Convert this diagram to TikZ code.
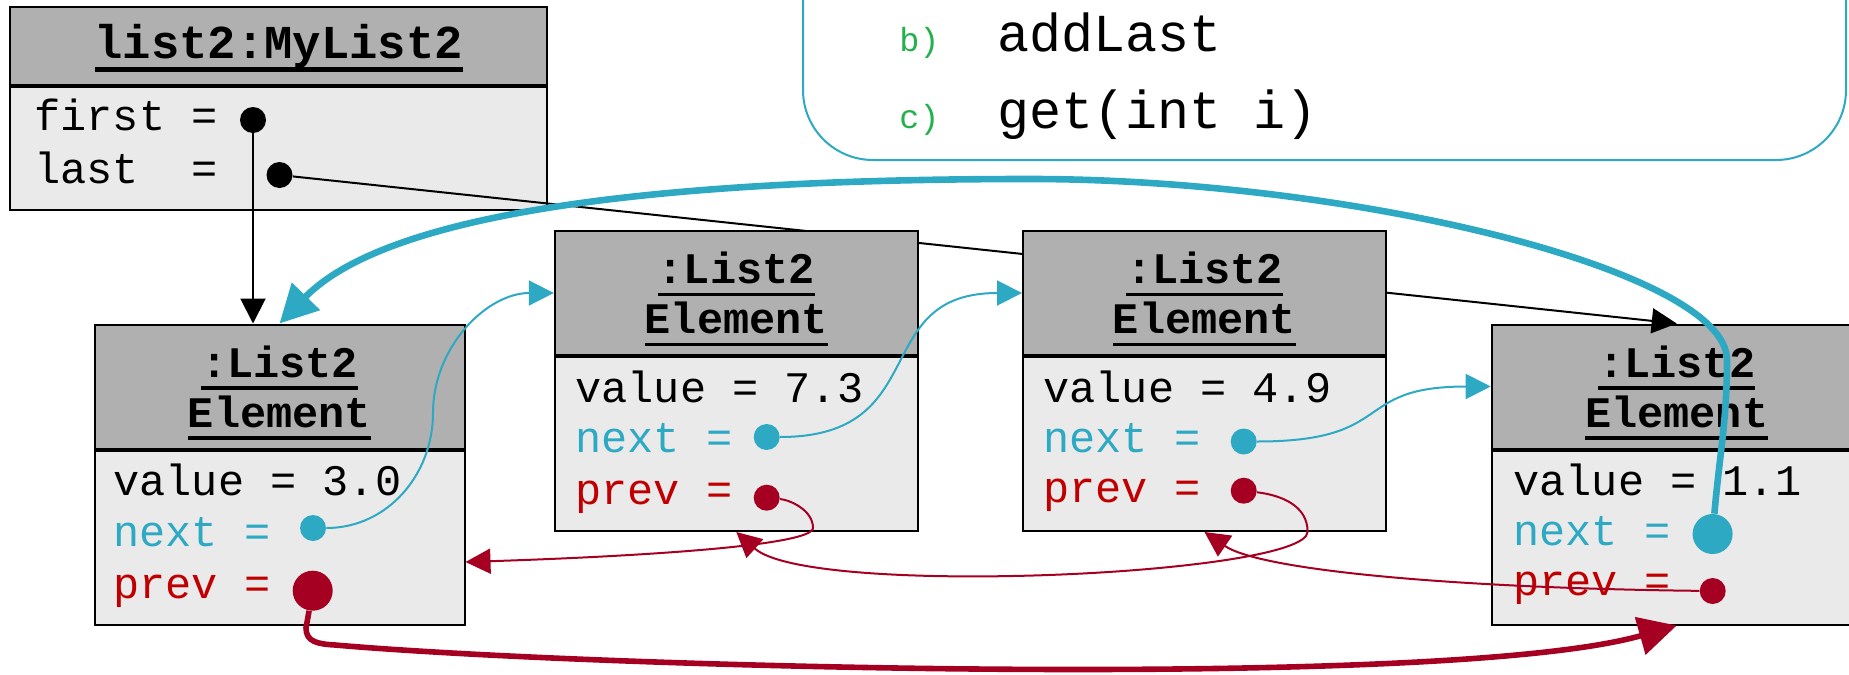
\documentclass[tikz,border=0pt]{standalone}
\usepackage{fontspec}
\setmonofont{Liberation Mono}
\usetikzlibrary{arrows.meta,positioning}
\definecolor{hdrgray}{HTML}{B0B0B0}
\definecolor{bodygray}{HTML}{EAEAEA}
\definecolor{nextcol}{HTML}{2EA9C4}
\definecolor{prevcol}{HTML}{A50021}
\definecolor{prevtxt}{HTML}{C00000}
\definecolor{notegreen}{HTML}{22B14C}
% underlined text: depth of rule, thickness, text
\newcommand{\ulbox}[3]{\leavevmode\setbox0=\hbox{#3}\rlap{\smash{\rule[#1]{\wd0}{#2}}}\box0}
\newcommand{\elemtitle}{\ulbox{-6.3pt}{1.7pt}{:List2}\\\ulbox{-6.3pt}{1.7pt}{Element}}
\tikzset{
    hdr/.style =    {rectangle,
                    fill=hdrgray,
                    draw=black,
                    line width=1pt,
                    inner sep=0pt,
                    minimum height=62pt,
                    align=center,
                    font=\ttfamily\bfseries\fontsize{21.8}{25}\selectfont},
    body/.style =   {rectangle,
                    fill=bodygray,
                    draw=black,
                    line width=1pt,
                    inner sep=0pt,
                    minimum height=87pt},
    field/.style =  {anchor=base west,
                    inner sep=0pt,
                    font=\ttfamily\fontsize{21.8}{25}\selectfont},
    ptr/.style =    {circle,
                    fill=black,
                    inner sep=0pt,
                    minimum size=13pt},
    bigptr/.style = {ptr,
                    minimum size=20pt},
    notelbl/.style = {anchor=base west,
                    inner sep=0pt,
                    text=notegreen,
                    font=\ttfamily\fontsize{16.7}{20}\selectfont},
    notetxt/.style = {anchor=base west,
                    inner sep=0pt,
                    font=\ttfamily\fontsize{26.7}{30}\selectfont},
    -,
    >={Triangle[length=12.5pt,width=12.5pt]},
    bigtip/.style = {-{Triangle[length=19pt,width=19pt]}}}

\begin{document}
\begin{tikzpicture}[x=0.5pt,y=-0.5pt]
        \useasboundingbox (0,0) rectangle (1849,675);
        % task box
        \draw [nextcol,line width=1pt,rounded corners=35pt,fill=white] (803,-100) rectangle (1846,160);
        \node[notelbl]      (bl) at (899,51.7)      {b)};
        \node[notetxt]      (bt) at (996.7,51.7)    {addLast};
        \node[notelbl]      (cl) at (899,128.3)     {c)};
        \node[notetxt]      (ct) at (996.7,128.3)   {get(int i)};

        % list object
        \node[hdr,minimum width=268.5pt,minimum height=39pt,font=\ttfamily\bfseries\fontsize{23.6}{28}\selectfont]
                            (L) at (278.7,46.2)     {\ulbox{-7pt}{2.8pt}{list2:MyList2}};
        \node[body,minimum width=268.5pt,minimum height=61.5pt] (Lb) [below=0pt of L] {};
        \node[field]        (Lf) at (34,130)        {first =};
        \node[field]        (Ll) at (34,183)        {last~~=};
        \node[ptr]          (first) at (253,120)    {};
        \node[ptr]          (last) at (279.5,175)   {};

        % first and last element
        \node[hdr,minimum width=185pt]      (E1) at (279.5,386.5)   {\elemtitle};
        \node[body,minimum width=185pt]     (E1b) [below=0pt of E1] {};
        \node[field]                        (E1v) at (113,495)      {value = 3.0};
        \node[field,text=nextcol]           (E1nt) at (113,546.5)   {next =};
        \node[field,text=prevtxt]           (E1pt) at (113,598)     {prev =};
        \node[ptr,fill=nextcol]             (E1n) at (313,528)      {};
        \node[bigptr,fill=prevcol]          (E1p) at (312.7,590.7)  {};

        \node[hdr,minimum width=185pt]      (E4) at (1676.7,386.5)  {\elemtitle};
        \node[body,minimum width=185pt]     (E4b) [below=0pt of E4] {};
        \node[field]                        (E4v) at (1513,495)     {value = 1.1};
        \node[field,text=nextcol]           (E4nt) at (1513,545)    {next =};
        \node[field,text=prevtxt]           (E4pt) at (1513,595)    {prev =};
        \node[bigptr,fill=nextcol]          (E4n) at (1712.6,534)   {};
        \node[ptr,fill=prevcol]             (E4p) at (1712.7,591)   {};

        \path [line width=1pt,->]   (first) edge []     (first |- E1.north)
                                    (last)  edge []     (E4.north);

        % middle elements
        \node[hdr,minimum width=181.5pt]    (E2) at (736.3,293)     {\elemtitle};
        \node[body,minimum width=181.5pt]   (E2b) [below=0pt of E2] {};
        \node[field]                        (E2v) at (575,402)      {value = 7.3};
        \node[field,text=nextcol]           (E2nt) at (575,452)     {next =};
        \node[field,text=prevtxt]           (E2pt) at (575,504)     {prev =};
        \node[ptr,fill=nextcol]             (E2n) at (766.7,437)    {};
        \node[ptr,fill=prevcol]             (E2p) at (766.7,497.7)  {};

        \node[hdr,minimum width=181.5pt]    (E3) at (1204.5,293)    {\elemtitle};
        \node[body,minimum width=181.5pt]   (E3b) [below=0pt of E3] {};
        \node[field]                        (E3v) at (1043,402)     {value = 4.9};
        \node[field,text=nextcol]           (E3nt) at (1043,452)    {next =};
        \node[field,text=prevtxt]           (E3pt) at (1043,502)    {prev =};
        \node[ptr,fill=nextcol]             (E3n) at (1243.7,441.5) {};
        \node[ptr,fill=prevcol]             (E3p) at (1243.7,490.7) {};

        % next references
        \draw [nextcol,line width=1pt,->] (E1n) to[out=0,in=-90] (433,413) to[out=90,in=180] (E2.west);
        \path [color=nextcol,line width=1pt,->]
                (E2n) edge [out=0,in=180,looseness=1.4]   (E3.west)
                (E3n) edge [out=0,in=180,looseness=1.5]   (E4.west);
        \draw [nextcol,line width=3.3pt,bigtip] (E4n) to[out=85,in=-90] (1727,360)
                .. controls (1727,270) and (1350,179) .. (1030,179)
                .. controls (730,179) and (400,200) .. (E1.north);

        % prev references
        \draw [prevcol,line width=1pt,->] (E2p) .. controls (790,500) and (813,510) .. (813,528)
                .. controls (813,545) and (650,556) .. ([yshift=-12.25pt]E1b.east);
        \draw [prevcol,line width=1pt,->] (E3p) .. controls (1280,495) and (1307.6,505) .. (1307.6,531.7)
                .. controls (1307.6,575) and (810,598) .. (E2b.south);
        \draw [prevcol,line width=1pt,->] (E4p) .. controls (1450,588) and (1260,570) .. (E3b.south);
        \draw [prevcol,line width=2.8pt,bigtip] (E1p) -- (306,628)
                .. controls (306,642) and (318,644) .. (335,645)
                .. controls (600,668) and (1450,690) .. (E4b.south);
\end{tikzpicture}
\end{document}
